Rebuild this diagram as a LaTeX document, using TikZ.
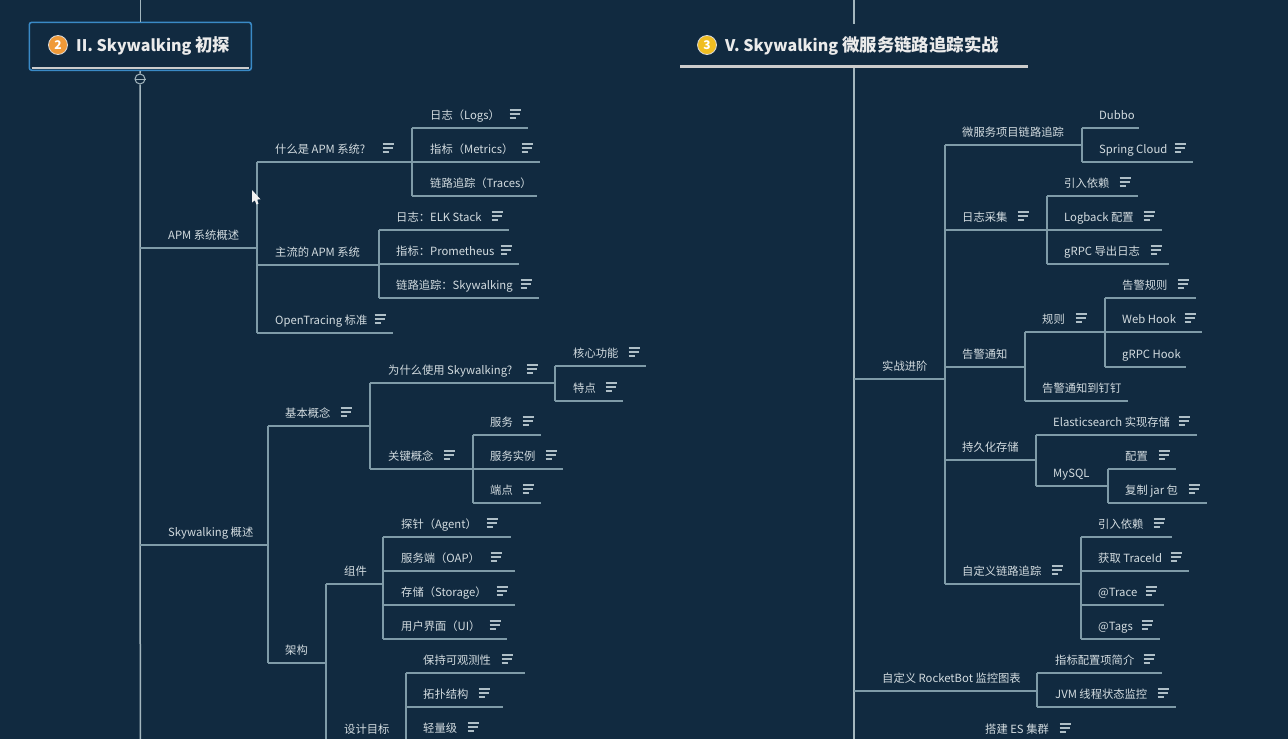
\documentclass[tikz,border=0pt]{standalone}
\usepackage{fontspec}
\setmainfont{Noto Sans CJK SC}
\definecolor{bgc}{HTML}{112A40}
\definecolor{linkc}{HTML}{7F9BA8}
\definecolor{trunkc}{HTML}{A3B6BE}
\definecolor{textc}{HTML}{D3DCE0}
\definecolor{iconc}{HTML}{AFBFC7}
\definecolor{framec}{HTML}{3A8AC6}
\definecolor{orangec}{HTML}{F09A38}
\definecolor{yellowc}{HTML}{F0BE22}
\newcommand{\latintitle}[1]{{\fontsize{16}{20}\selectfont #1}}
\tikzset{
  x=1pt,y=-1pt,
  link/.style={draw=linkc,line width=1.2pt},
  trunk/.style={draw=trunkc,line width=1.5pt},
  boxnode/.style={inner sep=0pt,outer sep=0pt,minimum height=26pt,anchor=south west},
  topictext/.style={inner sep=0pt,anchor=base west,text=textc,font=\fontsize{11.3}{13}\selectfont},
  titletext/.style={inner sep=0pt,anchor=base west,text=white!92!black,font=\fontsize{17.4}{20}\selectfont\bfseries},
  badge/.style={circle,inner sep=0pt,minimum size=19pt,draw=white!85!black,line width=.8pt,text=white,font=\fontsize{12}{14}\selectfont\bfseries},
  titleframe/.style={draw=framec,line width=1.6pt,rounded corners=2.5pt,inner sep=0pt,anchor=north west},
  titleplain/.style={inner sep=0pt,anchor=north west},
  rule/.style={draw=white!80!black,line width=2.2pt},
  collapser/.style={circle,draw=trunkc,line width=1pt,inner sep=0pt,minimum size=10pt,fill=bgc},
  noteicon/.pic={
    \draw[draw=iconc,line width=1.1pt] (-5.5,-4) -- (5.5,-4) (-5.5,0) -- (4.5,0) (-5.5,4) -- (0.5,4);
  }
}
% name, underline x start, underline x end, underline y, text x, text
\newcommand{\topic}[6]{%
  \pgfmathsetlengthmacro{\topicw}{(#3-#2)*1pt}%
  \node[boxnode,minimum width=\topicw] (#1) at (#2,#4) {};
  \node[topictext] (#1t) at (#5,#4-8.4) {#6};
  \draw[link] (#1.south west) -- (#1.south east);
}
% the same with a note icon centred on x = #7
\newcommand{\notetopic}[7]{%
  \topic{#1}{#2}{#3}{#4}{#5}{#6}
  \pic at (#7,#4-14) {noteicon};
}
\begin{document}
\begin{tikzpicture}
\useasboundingbox (0,0) rectangle (1288,739);
\fill[bgc] (0,0) rectangle (1288,739);
\clip (0,0) rectangle (1288,739);

% ===== left title
\node[titleframe,minimum width=222pt,minimum height=48pt] (ta) at (28.5,21.5) {};
\coordinate (tatop) at (ta.north |- 0,0);
\coordinate (taend) at (ta.north |- 0,760);
\node[collapser] (cl) at (140,79) {};
\draw[trunk] (tatop) -- (ta.north);
\draw[trunk] (ta.south) -- (cl.north);
\draw[trunk] (cl.south) -- (taend);
\draw[draw=trunkc,line width=1pt] (cl.west) -- (cl.east);
\draw[rule] ([xshift=3pt,yshift=3.5pt]ta.south west) -- ([xshift=-3pt,yshift=3.5pt]ta.south east);
\node[badge,fill=orangec] (tab) at (58,45) {2};
\node[titletext] (tat) at (76,51) {\latintitle{II. Skywalking} 初探};

% ===== right title
\node[titleplain,minimum width=348pt,minimum height=45pt] (tb) at (680,21) {};
\coordinate (tbtop) at (tb.north |- 0,0);
\coordinate (tbend) at (tb.north |- 0,760);
\draw[trunk] (tbtop) -- ([yshift=-3pt]tb.north);
\draw[trunk] (tb.south) -- (tbend);
\draw[rule] (tb.south west) -- (tb.south east);
\node[badge,fill=yellowc] (tbb) at (707,45) {3};
\node[titletext] (tbt) at (725,51) {\latintitle{V. Skywalking} 微服务链路追踪实战};

% ===== APM
\topic{apm}{140}{257}{248}{168}{APM 系统概述}
\notetopic{what}{257}{412}{162}{275}{什么是 APM 系统?}{388}
\notetopic{logs}{412}{528}{128}{430}{日志（Logs）}{515}
\notetopic{metrics}{412}{540}{162}{430}{指标（Metrics）}{527}
\topic{traces}{412}{537}{196}{430}{链路追踪（Traces）}
\draw[link] (logs.south west) -- (traces.south west);
\topic{main}{257}{379}{265}{275}{主流的 APM 系统}
\notetopic{elk}{379}{509}{230}{396}{日志：ELK Stack}{497}
\notetopic{prom}{379}{519}{264}{396}{指标：Prometheus}{506}
\notetopic{sky}{379}{539}{298}{396}{链路追踪：Skywalking}{526}
\draw[link] (elk.south west) -- (sky.south west);
\notetopic{otr}{257}{393}{333}{275}{OpenTracing 标准}{380}
\draw[link] (what.south west) -- (otr.south west);

% ===== Skywalking overview
\topic{swo}{140}{268}{545}{168}{Skywalking 概述}
\notetopic{basic}{268}{370}{426}{285}{基本概念}{346}
\notetopic{why}{370}{555}{383}{388}{为什么使用 Skywalking?}{532}
\notetopic{core}{555}{646}{366}{573}{核心功能}{634}
\notetopic{feat}{555}{623}{401}{573}{特点}{611}
\draw[link] (core.south west) -- (feat.south west);
\notetopic{key}{370}{473}{469}{388}{关键概念}{449}
\notetopic{svc}{473}{541}{435}{490}{服务}{528}
\notetopic{inst}{473}{563}{469}{490}{服务实例}{551}
\notetopic{endp}{473}{541}{503}{490}{端点}{528}
\draw[link] (svc.south west) -- (endp.south west);
\draw[link] (why.south west) -- (key.south west);
\topic{arch}{268}{326}{663}{285}{架构}
\draw[link] (basic.south west) -- (arch.south west);
\topic{comp}{326}{383}{584}{344}{组件}
\notetopic{agent}{383}{511}{537}{401}{探针（Agent）}{492}
\notetopic{oap}{383}{515}{571}{401}{服务端（OAP）}{496}
\notetopic{stor}{383}{515}{605}{401}{存储（Storage）}{502}
\notetopic{ui}{383}{507}{639}{401}{用户界面（UI）}{495}
\draw[link] (agent.south west) -- (ui.south west);
\topic{goal}{326}{406}{742}{344}{设计目标}
\draw[link] (comp.south west) -- (goal.south west);
\notetopic{obs}{406}{525}{673}{423}{保持可观测性}{507}
\notetopic{topo}{406}{503}{707}{423}{拓扑结构}{484}
\notetopic{light}{406}{485}{741}{423}{轻量级}{473}
\draw[link] (obs.south west) -- (light.south west);

% ===== right branch
\topic{adv}{854}{945}{379}{882}{实战进阶}
\topic{ms}{945}{1082}{145}{962}{微服务项目链路追踪}
\topic{dubbo}{1082}{1139}{128}{1099}{Dubbo}
\notetopic{sc}{1082}{1193}{162}{1099}{Spring Cloud}{1180}
\draw[link] (dubbo.south west) -- (sc.south west);
\notetopic{logc}{945}{1047}{230}{962}{日志采集}{1023}
\notetopic{dep}{1047}{1138}{196}{1064}{引入依赖}{1125}
\notetopic{lb}{1047}{1162}{230}{1064}{Logback 配置}{1149}
\notetopic{grl}{1047}{1169}{264}{1064}{gRPC 导出日志}{1156}
\draw[link] (dep.south west) -- (grl.south west);
\topic{alert}{945}{1025}{367}{962}{告警通知}
\notetopic{rule}{1025}{1105}{332}{1042}{规则}{1081}
\notetopic{arule}{1105}{1196}{298}{1122}{告警规则}{1183}
\notetopic{web}{1105}{1202}{332}{1122}{Web Hook}{1190}
\topic{grh}{1105}{1186}{367}{1122}{gRPC Hook}
\draw[link] (arule.south west) -- (grh.south west);
\topic{ding}{1025}{1128}{401}{1042}{告警通知到钉钉}
\draw[link] (rule.south west) -- (ding.south west);
\topic{pers}{945}{1036}{460}{962}{持久化存储}
\notetopic{es}{1036}{1197}{435}{1053}{Elasticsearch 实现存储}{1184}
\topic{mysql}{1036}{1108}{486}{1053}{MySQL}
\draw[link] (es.south west) -- (mysql.south west);
\notetopic{cfg}{1108}{1176}{469}{1125}{配置}{1164}
\notetopic{jar}{1108}{1207}{503}{1125}{复制 jar 包}{1194}
\draw[link] (cfg.south west) -- (jar.south west);
\notetopic{cust}{945}{1081}{584}{962}{自定义链路追踪}{1057}
\notetopic{dep2}{1081}{1172}{537}{1098}{引入依赖}{1159}
\notetopic{tid}{1081}{1189}{571}{1098}{获取 TraceId}{1176}
\notetopic{trc}{1081}{1164}{605}{1098}{@Trace}{1151}
\notetopic{tags}{1081}{1160}{639}{1098}{@Tags}{1147}
\draw[link] (dep2.south west) -- (tags.south west);
\draw[link] (ms.south west) -- (cust.south west);
\topic{rb}{854}{1037}{691}{882}{自定义 RocketBot 监控图表}
\notetopic{mi}{1037}{1162}{673}{1055}{指标配置项简介}{1149}
\notetopic{jvm}{1037}{1176}{707}{1055}{JVM 线程状态监控}{1163}
\draw[link] (mi.south west) -- (jvm.south west);
\notetopic{esc}{854}{1078}{742}{985}{搭建 ES 集群}{1065}

% mouse pointer
\fill[white!95!black] (252,190) -- (252,202.5) -- (254.8,200.3) -- (256.5,204.5) -- (258.5,203.6) -- (256.7,199.6) -- (260.5,199.3) -- cycle;
\end{tikzpicture}
\end{document}
